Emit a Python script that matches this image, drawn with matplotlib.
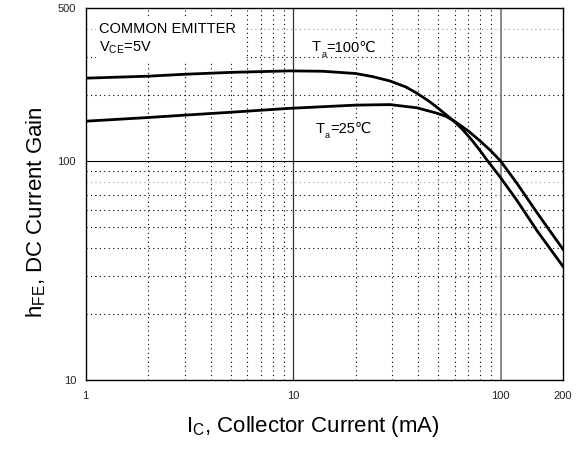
import matplotlib
matplotlib.use('Agg')
import matplotlib.pyplot as plt
from matplotlib.patches import Rectangle

# collector current (mA) vs DC current gain
ic_100 = [1, 2, 3, 5, 9.6, 13.9, 20, 24.1, 29.3, 34.9, 39.5, 45, 48.6, 54.5,
          60, 65.3, 73, 80, 86, 100, 120, 150, 200]
hfe_100 = [239, 244, 249, 254, 258, 257, 251, 243, 232, 218, 204, 188, 178, 163,
           151, 140, 124, 111, 101, 84, 66, 48, 33]

ic_25 = [1, 2, 3, 5, 9.6, 13.9, 20, 29.3, 39.5, 48.6, 54.5, 60, 70, 80, 90,
         100, 120, 150, 200]
hfe_25 = [152, 158, 162, 167, 174, 177, 180, 181, 175, 166, 160, 152, 137, 123, 111,
          100, 79, 58, 39.5]

x_ticks = [1, 10, 100, 200]
y_ticks = [10, 100, 500]
x_minor = [2, 3, 4, 5, 6, 7, 8, 9, 20, 30, 40, 50, 60, 70, 80, 90]
y_minor = [20, 30, 40, 50, 60, 70, 80, 90, 200, 300, 400]


def temp_label(ax, x, y, sub, rest, size=10.5):
    # "T" + subscript "a" + "=..℃" chained so the ℃ can fall back to DejaVu
    box = dict(facecolor='white', edgecolor='none', pad=1.0)
    t = ax.text(x, y, 'T', transform=ax.transAxes, fontsize=size,
                va='bottom', bbox=box, zorder=4)
    s = ax.annotate(sub, xy=(1, 0), xycoords=t, xytext=(0.3, -3.2),
                    textcoords='offset points', fontsize=size * 0.62,
                    va='bottom', ha='left', zorder=5)
    ax.annotate(rest, xy=(1, 0), xycoords=s, xytext=(0.2, 3.2),
                textcoords='offset points', fontsize=size, va='bottom',
                ha='left', bbox=box, zorder=4)


def main():
    plt.rcParams['font.family'] = ['Liberation Sans', 'DejaVu Sans']
    plt.rcParams['mathtext.fontset'] = 'custom'
    plt.rcParams['mathtext.rm'] = 'Liberation Sans'

    fig = plt.figure(figsize=(5.79, 4.5), dpi=100)
    ax = fig.add_axes([0.148, 0.1556, 0.8244, 0.8267])
    ax.set_xscale('log')
    ax.set_yscale('log')
    ax.set_xlim(1, 200)
    ax.set_ylim(10, 500)

    # grid
    for x in x_minor:
        ax.axvline(x, color='black', lw=0.8, ls=(0, (1, 3)), zorder=1)
    for y in y_minor:
        c = '#999999' if y in (80, 400) else 'black'
        ax.axhline(y, color=c, lw=0.8, ls=(0, (1, 3)), zorder=1)
    ax.axvline(10, color='#333333', lw=0.9, zorder=1)
    ax.axvline(100, color='#888888', lw=1.4, zorder=1)
    ax.axhline(100, color='black', lw=0.8, zorder=1)

    ax.plot(ic_100, hfe_100, color='black', lw=2.0, zorder=3)
    ax.plot(ic_25, hfe_25, color='black', lw=2.0, zorder=3)

    ax.set_xticks(x_ticks)
    ax.set_xticklabels([str(v) for v in x_ticks])
    ax.set_yticks(y_ticks)
    ax.set_yticklabels([str(v) for v in y_ticks])
    ax.minorticks_off()
    ax.tick_params(length=0, labelsize=8, colors='#222222')
    ax.tick_params(axis='x', pad=8)
    ax.tick_params(axis='y', pad=7)
    for s in ax.spines.values():
        s.set_linewidth(1.0)

    # white box behind the condition text
    ax.add_patch(Rectangle((0.0216, 0.8575), 0.31, 0.1185, transform=ax.transAxes,
                           facecolor='white', edgecolor='none', zorder=2))
    ax.text(0.028, 0.933, 'COMMON EMITTER', transform=ax.transAxes,
            fontsize=10.5, va='baseline', zorder=4)
    ax.text(0.028, 0.882, r'$\mathregular{V_{CE}}$=5V', transform=ax.transAxes,
            fontsize=10.5, va='baseline', zorder=4)

    temp_label(ax, 0.474, 0.875, 'a', '=100℃')
    temp_label(ax, 0.481, 0.657, 'a', '=25℃')

    fig.text(0.083, 0.529, r'$\mathregular{h_{FE}}$, DC Current Gain',
             rotation=90, fontsize=16, ha='right', va='center')
    fig.text(0.5406, 0.0393, r'$\mathregular{I_C}$, Collector Current (mA)',
             fontsize=16, ha='center', va='baseline')

    fig.savefig('out.png', dpi=100)


if __name__ == '__main__':
    main()
